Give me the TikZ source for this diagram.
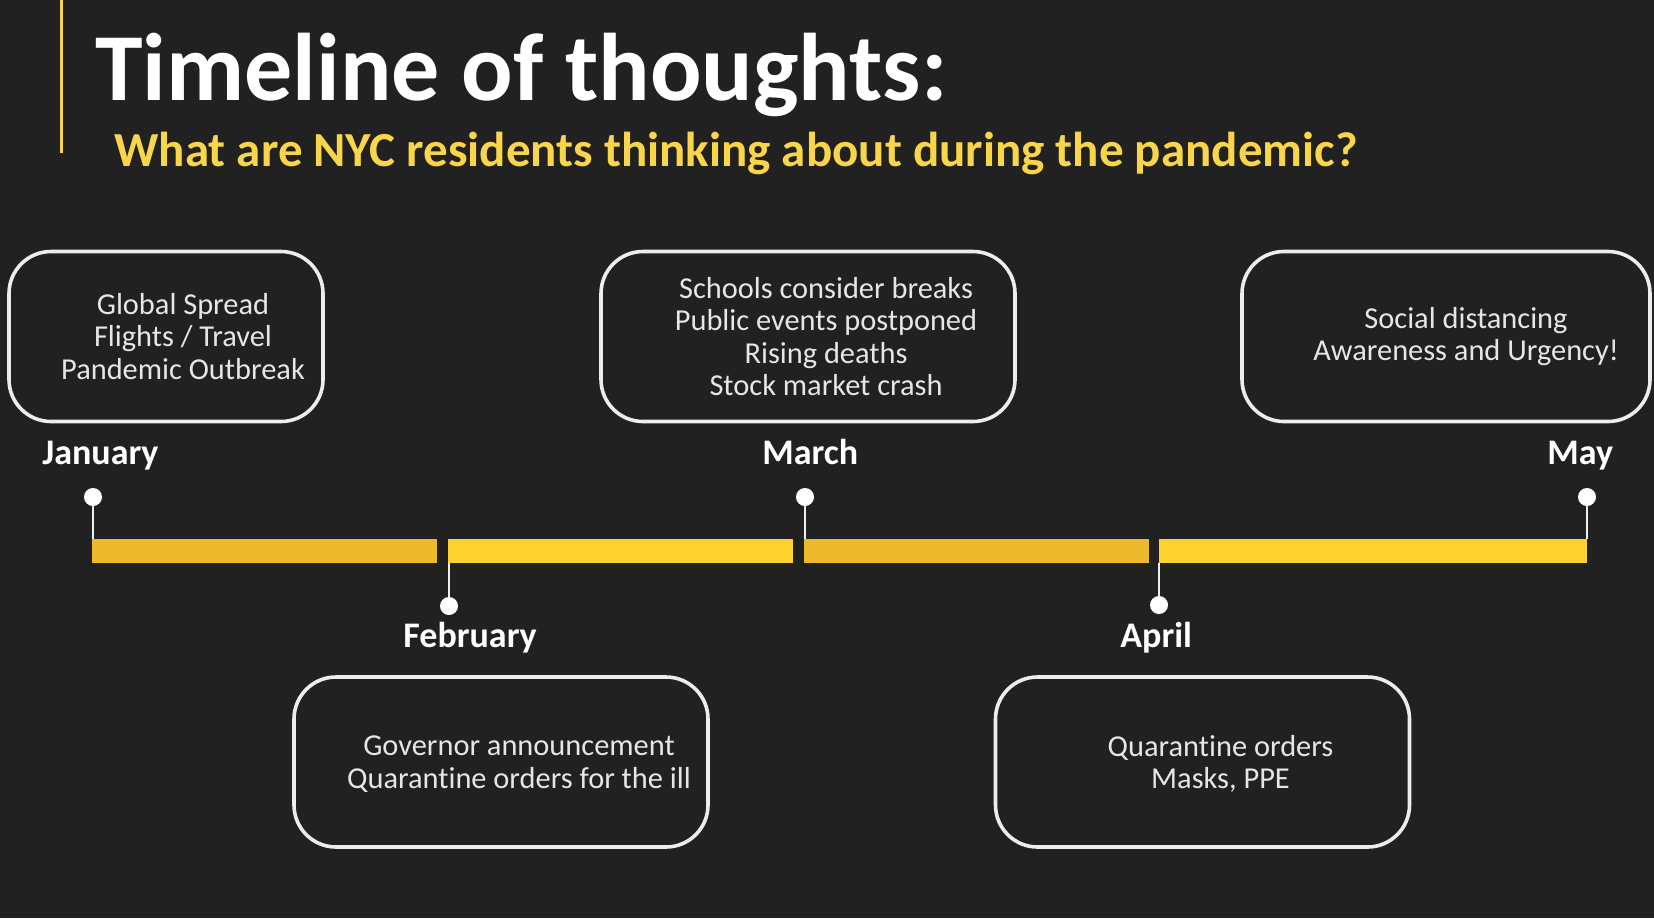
\documentclass[tikz,border=0pt]{standalone}
\usepackage{fontspec}
\setmainfont{Carlito}[Ligatures=NoCommon]
\usepackage{xcolor}
\definecolor{bgdark}{HTML}{212121}
\definecolor{titleyellow}{HTML}{F8D54A}
\definecolor{bargold}{HTML}{ECB92D}
\definecolor{baryellow}{HTML}{FDD22F}
\definecolor{linegray}{HTML}{EDEDED}
\definecolor{boxtext}{HTML}{E6E6E6}
\usetikzlibrary{positioning,calc}

\tikzset{
  heading/.style={anchor=base west, inner sep=0pt, text=white,
    font=\bfseries\fontsize{48}{52}\selectfont},
  subheading/.style={anchor=base west, inner sep=0pt, text=titleyellow,
    font=\bfseries\fontsize{24.5}{28}\selectfont},
  thoughtbox/.style={draw=linegray, line width=1.8pt, rounded corners=21pt,
    minimum width=207pt, minimum height=85pt, inner sep=0pt},
  thoughttext/.style={text=boxtext, align=center, inner sep=0pt,
    font=\fontsize{15.2}{16.2}\selectfont},
  month/.style={anchor=base west, inner sep=0pt, text=white,
    font=\bfseries\fontsize{18}{20}\selectfont},
  tick/.style={circle, fill=white, inner sep=0pt, minimum size=9pt},
  barseg/.style={rectangle, inner sep=0pt, minimum height=12pt, minimum width=172.5pt},
  stem/.style={draw=linegray, line width=1.2pt},
}

\begin{document}
\begin{tikzpicture}[x=0.5pt, y=-0.5pt]
  \useasboundingbox (0,0) rectangle (1654,918);
  \fill[bgdark] (0,0) rectangle (1654,918);

  % accent line and headings
  \draw[titleyellow, line width=1.5pt] (61,0) -- (61,153);
  \node[heading] (title) at (95,100) {Timeline of thoughts:};
  \node[subheading] (subtitle) at (114,166) {What are NYC residents thinking about during the pandemic?};

  % timeline bar
  \node[barseg, fill=bargold] (janbar) at (264.5,551) {};
  \node[barseg, fill=baryellow] (febbar) at (620.5,551) {};
  \node[barseg, fill=bargold] (marbar) at (976.5,551) {};
  \node[barseg, fill=baryellow, minimum width=214pt] (aprbar) at (1373,551) {};

  % month ticks
  \node[tick] (jandot) at (93,497) {};
  \node[tick] (febdot) at (449,606) {};
  \node[tick] (mardot) at (805,497) {};
  \node[tick] (aprdot) at (1159,605) {};
  \node[tick] (maydot) at (1587,497) {};
  \draw[stem] (jandot) -- (jandot |- janbar.north);
  \draw[stem] (febdot) -- (febdot |- febbar.south);
  \draw[stem] (mardot) -- (mardot |- marbar.north);
  \draw[stem] (aprdot) -- (aprdot |- aprbar.south);
  \draw[stem] (maydot) -- (maydot |- aprbar.north);

  \node[month] (jan) at (42,464) {January};
  \node[month] (feb) at (403,647) {February};
  \node[month] (mar) at (762,464) {March};
  \node[month] (apr) at (1120,647) {April};
  \node[month] (may) at (1547,464) {May};

  % thought boxes
  \node[thoughtbox, minimum width=157pt] (janbox) at (166,336.5) {};
  \node[thoughttext] (jantext) at ([xshift=8.5pt]janbox.center) {Global Spread\\Flights / Travel\\Pandemic Outbreak};
  \node[thoughtbox] (marbox) at (808,336.5) {};
  \node[thoughttext] (martext) at ([xshift=9pt]marbox.center) {Schools consider breaks\\Public events postponed\\Rising deaths\\Stock market crash};
  \node[thoughtbox, minimum width=204pt] (maybox) at (1446,336.5) {};
  \node[thoughttext] (maytext) at ([xshift=10pt]maybox.center) {Social distancing\\Awareness and Urgency!};
  \node[thoughtbox] (febbox) at (501,762) {};
  \node[thoughttext] (febtext) at ([xshift=9pt,yshift=-1pt]febbox.center) {Governor announcement\\Quarantine orders for the ill};
  \node[thoughtbox] (aprbox) at (1202.5,762) {};
  \node[thoughttext] (aprtext) at ([xshift=9pt,yshift=-1pt]aprbox.center) {Quarantine orders\\Masks, PPE};
\end{tikzpicture}
\end{document}
